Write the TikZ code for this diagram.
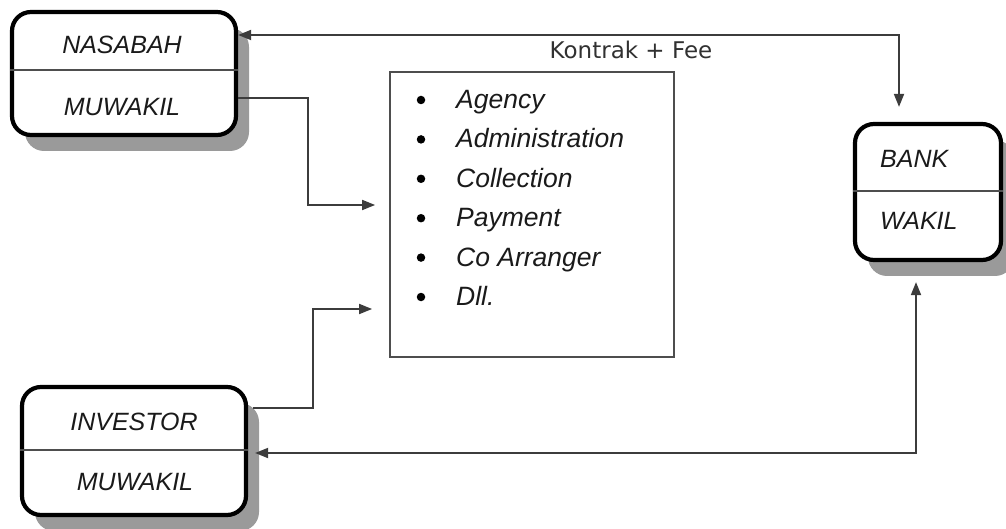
\documentclass[tikz,border=0pt]{standalone}
\usepackage{fontspec}
\setmainfont{Liberation Sans}
\newfontfamily\notefont{DejaVu Sans}
\usetikzlibrary{shadows,arrows.meta,calc}
\definecolor{wire}{HTML}{3C3C3C}
\definecolor{rulegray}{HTML}{4E4E4E}
\definecolor{shade}{HTML}{9A9A9A}
\definecolor{ink}{HTML}{1A1A1A}

\begin{document}
\begin{tikzpicture}[x=1pt,y=-1pt,
  party/.style={draw=black, line width=4.2pt, rounded corners=19pt, fill=white,
    inner sep=0pt,
    drop shadow={shadow xshift=13pt, shadow yshift=-16pt, fill=shade, opacity=1}},
  divider/.style={draw=rulegray, line width=1.8pt},
  role/.style={font=\fontsize{25}{30}\selectfont\itshape, text=ink, inner sep=0pt, anchor=base},
  item/.style={font=\fontsize{26.5}{30}\selectfont\itshape, text=ink, inner sep=0pt, anchor=base west},
  dot/.style={circle, fill=black, inner sep=0pt, minimum size=8.5pt},
  link/.style={draw=wire, line width=1.8pt},
  tip/.style={-{Triangle[length=13pt,width=10pt]}},
  twotips/.style={{Triangle[length=13pt,width=10pt]}-{Triangle[length=13pt,width=10pt]}}]

\useasboundingbox (0,0) rectangle (1006,529);

% parties
\node[party, minimum width=224pt, minimum height=123pt] (nas) at (124,73.5) {};
\node[party, minimum width=146pt, minimum height=136pt] (bank) at (928,192) {};
\node[party, minimum width=224pt, minimum height=128pt] (inv) at (134,451) {};

% dividers between role names
\draw[divider] (nas.west |- 0,70) -- (nas.east |- 0,70);
\draw[divider] (bank.west |- 0,191) -- (bank.east |- 0,191);
\draw[divider] (inv.west |- 0,450) -- (inv.east |- 0,450);

% role names
\node[role] (nasTop) at (122,54) {NASABAH};
\node[role] (nasBot) at (122,116) {MUWAKIL};
\node[role, anchor=base west] (bankTop) at (880,168) {BANK};
\node[role, anchor=base west] (bankBot) at (880,230) {WAKIL};
\node[role] (invTop) at (134,430) {INVESTOR};
\node[role] (invBot) at (135,490) {MUWAKIL};

% list of services
\node[draw=rulegray, line width=1.8pt, minimum width=284pt, minimum height=285pt,
      inner sep=0pt] (list) at (532,214.5) {};
\foreach \t [count=\i] in {Agency,Administration,Collection,Payment,Co Arranger,Dll.} {
  \pgfmathsetmacro{\yy}{100+39.4*(\i-1)}
  \node[dot] (d\i) at (421,\yy) {};
  \node[item] (s\i) at (456,\yy+8.5) {\t};
}

% connectors
\coordinate (topturn) at (899,35);
\draw[link, twotips] (nas.east |- topturn) -- (topturn)
  -- ([yshift=15pt]bank.north -| topturn);
\node[font=\notefont\fontsize{23}{28}\selectfont, text=ink!90, inner sep=0pt,
      anchor=base] (fee) at (631,59) {Kontrak + Fee};

\coordinate (n1) at (308,98);
\coordinate (n2) at (308,205);
\draw[link, tip] (nas.east |- n1) -- (n1) -- (n2) -- ([xshift=-14pt]list.west |- n2);

\coordinate (i1) at (313,408);
\coordinate (i2) at (313,309);
\draw[link, tip] ([xshift=5pt]inv.east |- i1) -- (i1) -- (i2)
  -- ([xshift=-17pt]list.west |- i2);

\coordinate (botturn) at (916,453);
\draw[link, twotips] ([xshift=7pt]inv.east |- botturn) -- (botturn)
  -- ([yshift=-20pt]bank.south -| botturn);
\end{tikzpicture}
\end{document}
